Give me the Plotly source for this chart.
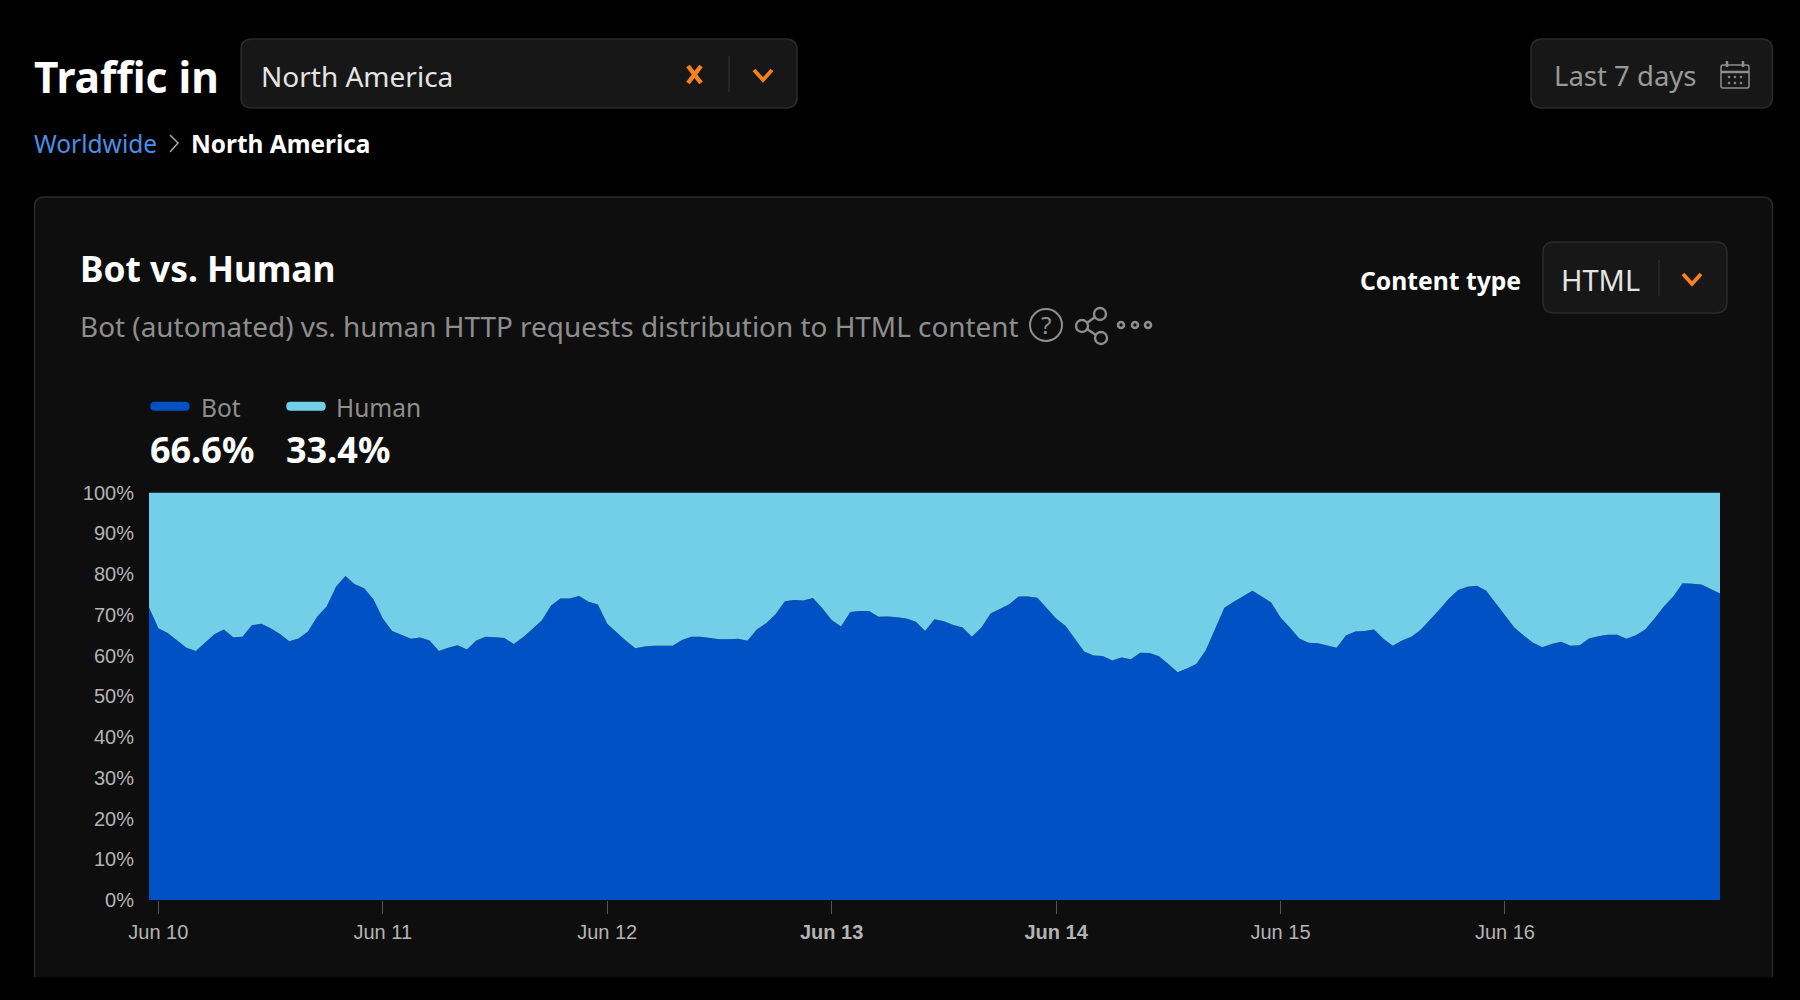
import pandas as pd
import plotly.graph_objects as go

WIDTH, HEIGHT = 1800, 1000
UI_FONT = "Noto Sans"
AXIS_FONT = "Liberation Sans"

BOT_COLOR = "#0051C3"
HUMAN_COLOR = "#73CEE7"
ORANGE = "#F6821F"
MUTED = "#8E8E8E"
CARD = "#0E0E0E"
BOX = "#171717"
EDGE = "#2A2A2A"

# Hourly share of HTML requests, in percent
bot_share = [
    71.8, 66.7, 65.5, 63.8, 61.9, 61.1, 63.2, 65.2, 66.4, 64.5, 64.6, 67.4, 67.8, 66.7, 65.3, 63.5, 64.2, 65.9, 69.6, 72.0,
    76.9, 79.5, 77.5, 76.5, 73.8, 69.1, 66.0, 65.1, 64.1, 64.4, 63.7, 61.1, 61.9, 62.5, 61.5, 63.7, 64.6, 64.5, 64.3, 62.8,
    64.5, 66.5, 68.6, 72.3, 74.0, 74.0, 74.6, 73.2, 72.5, 67.8, 65.7, 63.6, 61.8, 62.2, 62.4, 62.4, 62.4, 63.8, 64.6, 64.6,
    64.3, 64.0, 64.0, 64.1, 63.6, 66.4, 67.9, 70.1, 73.3, 73.6, 73.5, 74.1, 71.6, 68.7, 67.1, 70.7, 70.9, 70.9, 69.5, 69.6,
    69.4, 69.1, 68.3, 66.0, 68.9, 68.4, 67.5, 66.9, 64.6, 66.8, 70.3, 71.5, 72.6, 74.5, 74.5, 74.2, 71.7, 69.1, 67.3, 64.1,
    61.0, 60.0, 59.9, 58.8, 59.5, 59.1, 60.7, 60.6, 59.8, 57.9, 55.9, 56.8, 57.9, 61.2, 66.3, 71.7, 73.2, 74.5, 75.9, 74.5,
    73.0, 69.3, 66.9, 64.2, 63.1, 63.0, 62.4, 61.9, 64.9, 65.9, 66.0, 66.4, 64.1, 62.4, 63.7, 64.6, 66.3, 68.7, 71.3, 73.9,
    76.1, 76.9, 77.1, 75.9, 72.8, 69.8, 66.9, 64.9, 63.1, 62.0, 62.8, 63.4, 62.4, 62.5, 64.2, 64.7, 65.1, 65.1, 64.1, 65.0,
    66.4, 69.1, 72.0, 74.5, 77.7, 77.6, 77.4, 76.3, 75.2,
]
human_share = [
    28.2, 33.3, 34.5, 36.2, 38.1, 38.9, 36.8, 34.8, 33.6, 35.5, 35.4, 32.6, 32.2, 33.3, 34.7, 36.5, 35.8, 34.1, 30.4, 28.0,
    23.1, 20.5, 22.5, 23.5, 26.2, 30.9, 34.0, 34.9, 35.9, 35.6, 36.3, 38.9, 38.1, 37.5, 38.5, 36.3, 35.4, 35.5, 35.7, 37.2,
    35.5, 33.5, 31.4, 27.7, 26.0, 26.0, 25.4, 26.8, 27.5, 32.2, 34.3, 36.4, 38.2, 37.8, 37.6, 37.6, 37.6, 36.2, 35.4, 35.4,
    35.7, 36.0, 36.0, 35.9, 36.4, 33.6, 32.1, 29.9, 26.7, 26.4, 26.5, 25.9, 28.4, 31.3, 32.9, 29.3, 29.1, 29.1, 30.5, 30.4,
    30.6, 30.9, 31.7, 34.0, 31.1, 31.6, 32.5, 33.1, 35.4, 33.2, 29.7, 28.5, 27.4, 25.5, 25.5, 25.8, 28.3, 30.9, 32.7, 35.9,
    39.0, 40.0, 40.1, 41.2, 40.5, 40.9, 39.3, 39.4, 40.2, 42.1, 44.1, 43.2, 42.1, 38.8, 33.7, 28.3, 26.8, 25.5, 24.1, 25.5,
    27.0, 30.7, 33.1, 35.8, 36.9, 37.0, 37.6, 38.1, 35.1, 34.1, 34.0, 33.6, 35.9, 37.6, 36.3, 35.4, 33.7, 31.3, 28.7, 26.1,
    23.9, 23.1, 22.9, 24.1, 27.2, 30.2, 33.1, 35.1, 36.9, 38.0, 37.2, 36.6, 37.6, 37.5, 35.8, 35.3, 34.9, 34.9, 35.9, 35.0,
    33.6, 30.9, 28.0, 25.5, 22.3, 22.4, 22.6, 23.7, 24.8,
]
hours = pd.date_range("2024-06-09 23:00", periods=len(bot_share), freq="h")

day_ticks = ["2024-06-10", "2024-06-11", "2024-06-12", "2024-06-13", "2024-06-14", "2024-06-15", "2024-06-16"]
day_labels = ["Jun 10", "Jun 11", "Jun 12", "<b>Jun 13</b>", "<b>Jun 14</b>", "Jun 15", "Jun 16"]
pct_ticks = [0, 10, 20, 30, 40, 50, 60, 70, 80, 90, 100]
pct_labels = ["0%", "10%", "20%", "30%", "40%", "50%", "60%", "70%", "80%", "90%", "100%"]


def fx(x):
    return x / WIDTH


def fy(y):
    return 1 - y / HEIGHT


def poly(points, color, width=2.5, fill=None, close=False):
    d = "M" + " L".join(f"{fx(x):.5f},{fy(y):.5f}" for x, y in points) + (" Z" if close else "")
    return dict(type="path", xref="paper", yref="paper", path=d, layer="above",
                line=dict(color=color, width=width), fillcolor=fill or "rgba(0,0,0,0)")


def round_rect(x0, y0, x1, y1, r, fill, edge=EDGE, layer="below"):
    def p(x, y):
        return f"{fx(x):.5f},{fy(y):.5f}"
    d = (f"M{p(x0 + r, y0)} L{p(x1 - r, y0)} Q{p(x1, y0)} {p(x1, y0 + r)} "
         f"L{p(x1, y1 - r)} Q{p(x1, y1)} {p(x1 - r, y1)} L{p(x0 + r, y1)} "
         f"Q{p(x0, y1)} {p(x0, y1 - r)} L{p(x0, y0 + r)} Q{p(x0, y0)} {p(x0 + r, y0)} Z")
    return dict(type="path", xref="paper", yref="paper", path=d, layer=layer,
                fillcolor=fill, line=dict(color=edge, width=1.5))


def circle(cx, cy, r, color, width=2, fill=None):
    return dict(type="circle", xref="paper", yref="paper", layer="above",
                x0=fx(cx - r), x1=fx(cx + r), y0=fy(cy + r), y1=fy(cy - r),
                line=dict(color=color, width=width), fillcolor=fill or "rgba(0,0,0,0)")


def chevron(cx, cy, color=ORANGE):
    return poly([(cx - 9, cy - 5), (cx, cy + 5), (cx + 9, cy - 5)], color, 3.8)


def label(x, y, text, size, color, bold=False, anchor="left", family=UI_FONT):
    return dict(xref="paper", yref="paper", x=fx(x), y=fy(y), xanchor=anchor, yanchor="middle",
                text=f"<b>{text}</b>" if bold else text, showarrow=False,
                font=dict(family=family, size=size, color=color))


shapes = [
    # Card (cut off along the bottom edge) and control boxes
    round_rect(34.5, 197, 1772.5, 1040, 10, CARD),
    dict(type="rect", xref="paper", yref="paper", x0=0, x1=1, y0=0, y1=fy(977), layer="below",
         fillcolor="#000000", line=dict(width=0)),
    round_rect(241, 39, 797, 108, 11, BOX),
    round_rect(1531, 39, 1772.5, 108, 11, BOX),
    round_rect(1543, 242, 1727, 313, 11, BOX),
    # Region selector controls
    poly([(688, 66), (701, 83)], ORANGE, 4.5),
    poly([(701, 66), (688, 83)], ORANGE, 4.5),
    poly([(729, 56), (729, 92)], "#2C2C2C", 1.5),
    chevron(763, 75),
    # Calendar icon
    round_rect(1721, 65, 1749, 88, 2, "rgba(0,0,0,0)", MUTED, "above"),
    poly([(1721, 72), (1749, 72)], MUTED, 2.5),
    poly([(1727, 61), (1727, 67)], MUTED, 2.5),
    poly([(1743, 61), (1743, 67)], MUTED, 2.5),
    *[circle(x, y, 0.9, MUTED, 1, MUTED) for x in (1729, 1735, 1741) for y in (77, 83)],
    # Breadcrumb separator
    poly([(170, 135), (178, 143), (170, 152)], "#A8A8A8", 1.5),
    # Help, share and more icons
    circle(1046, 325, 16, MUTED, 2),
    circle(1100, 314, 6, MUTED, 2.4),
    circle(1082, 326, 6, MUTED, 2.4),
    circle(1101, 338, 6, MUTED, 2.4),
    poly([(1095, 317), (1087, 323)], MUTED, 2.4),
    poly([(1087, 329), (1096, 335)], MUTED, 2.4),
    circle(1121, 325, 3, MUTED, 2.6),
    circle(1135, 325, 3, MUTED, 2.6),
    circle(1148, 325, 3, MUTED, 2.6),
    # Content type selector controls
    poly([(1659, 260), (1659, 296)], "#2C2C2C", 1.5),
    chevron(1692, 279),
    # Legend swatches
    round_rect(151, 402.5, 189, 410, 3.5, BOT_COLOR, BOT_COLOR, "above"),
    round_rect(287, 402.5, 325, 410, 3.5, HUMAN_COLOR, HUMAN_COLOR, "above"),
]

annotations = [
    label(32, 77, "Traffic in", 42.5, "#FFFFFF", bold=True),
    label(259, 76, "North America", 28, "#E4E4E4"),
    label(1552, 76, "Last 7 days", 27.5, "#9A9A9A"),
    label(32, 143, "Worldwide", 24.5, "#4A8FE7"),
    label(189, 143, "North America", 24.4, "#FFFFFF", bold=True),
    label(78, 268, "Bot vs. Human", 35.3, "#FFFFFF", bold=True),
    label(78, 325.5, "Bot (automated) vs. human HTTP requests distribution to HTML content", 27.9, MUTED),
    label(1046, 325, "?", 24, MUTED, anchor="center"),
    label(1358, 280, "Content type", 24.7, "#FFFFFF", bold=True),
    label(1559, 279, "HTML", 29, "#E4E4E4"),
    label(199, 407, "Bot", 24.5, MUTED),
    label(334, 407, "Human", 24.5, MUTED),
    label(148, 450, "66.6%", 36, "#FFFFFF", bold=True),
    label(284, 450, "33.4%", 36, "#FFFFFF", bold=True),
]

fig = go.Figure()
fig.add_scatter(x=hours, y=bot_share, name="Bot", mode="lines", stackgroup="share",
                line=dict(width=0, color=BOT_COLOR), fillcolor=BOT_COLOR, showlegend=False)
fig.add_scatter(x=hours, y=human_share, name="Human", mode="lines", stackgroup="share",
                line=dict(width=0, color=HUMAN_COLOR), fillcolor=HUMAN_COLOR, showlegend=False)

fig.update_layout(
    width=WIDTH, height=HEIGHT, autosize=False,
    margin=dict(l=0, r=0, t=0, b=0, pad=0),
    paper_bgcolor="#000000", plot_bgcolor=CARD,
    shapes=shapes, annotations=annotations, showlegend=False,
    xaxis=dict(
        domain=[fx(149), fx(1720)], anchor="y", type="date", automargin=False,
        range=[hours[0], hours[-1]],
        tickmode="array", tickvals=day_ticks, ticktext=day_labels,
        ticks="outside", ticklen=13, tickwidth=1, tickcolor="#555555",
        tickfont=dict(family=AXIS_FONT, size=20, color="#B4B4B4"),
        ticklabelstandoff=1, showgrid=False, zeroline=False, showline=False,
    ),
    yaxis=dict(
        domain=[fy(900), fy(492.5)], anchor="x", range=[0, 100], automargin=False,
        tickmode="array", tickvals=pct_ticks, ticktext=pct_labels,
        ticks="", tickfont=dict(family=AXIS_FONT, size=20, color="#B4B4B4"),
        ticklabelstandoff=14, showgrid=False, zeroline=False, showline=False,
    ),
)

fig.write_html("out.html", config=dict(displayModeBar=False))
